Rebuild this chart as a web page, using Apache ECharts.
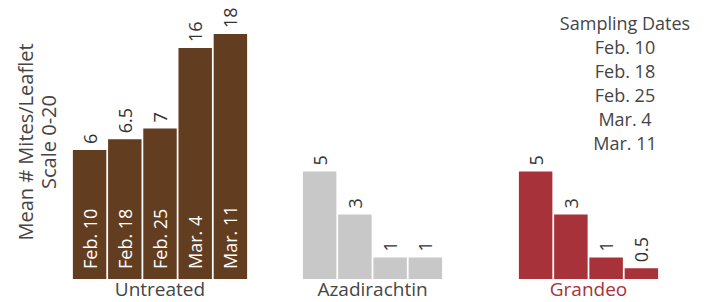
<!DOCTYPE html>
<html>
<head>
<meta charset="utf-8">
<script src="https://cdn.jsdelivr.net/npm/echarts@6/dist/echarts.min.js"></script>
<style>html,body{margin:0;padding:0;background:#fff}#c{width:710px;height:302px}</style>
</head>
<body>
<div id="c"></div>
<script>
// ---- data ----
const dates = ['Feb. 10', 'Feb. 18', 'Feb. 25', 'Mar. 4', 'Mar. 11'];
const groups = ['Untreated', 'Azadirachtin', 'Grandeo'];
const untreated = [6, 6.5, 7, 16, 18];
const azadirachtin = [5, 3, 1, 1];
const grandeo = [5, 3, 1, 0.5];
const legendTitle = 'Sampling Dates';
const yTitle = ['Mean # Mites/Leaflet', 'Scale 0-20'];

// ---- styling ----
const FONT = 'Open Sans';
const TXT = '#454545';
const colors = ['#633d20', '#c8c8c8', '#a8323a'];
const groupNameColors = [TXT, TXT, '#a8323a'];

const chart = echarts.init(document.getElementById('c'), null, {renderer: 'svg'});

const gridDefs = [
  {left: 72, width: 176},
  {left: 302, width: 141},
  {left: 518, width: 141}
];
const seriesData = [untreated, azadirachtin, grandeo];

function yAxisFor(i) {
  return {
    type: 'value', gridIndex: i, min: 0, max: 18, show: false,
    breaks: [
      {start: 7.5, end: 13.2, gap: 0.444},
      {start: 16.2, end: 17.8, gap: 0.251}
    ],
    breakArea: {show: false}
  };
}

const option = {
  backgroundColor: '#fff',
  animation: false,
  textStyle: {fontFamily: FONT},
  title: {
    text: [legendTitle].concat(dates).join('\n'),
    left: 625, top: 11, padding: 0, textAlign: 'center',
    textStyle: {fontFamily: FONT, fontSize: 18, fontWeight: 'normal', color: TXT, lineHeight: 24}
  },
  grid: gridDefs.map(g => ({left: g.left, width: g.width, top: 34, bottom: 23, outerBoundsMode: 'none', containLabel: false})),
  xAxis: seriesData.map((d, i) => ({
    type: 'category', gridIndex: i, data: dates.slice(0, d.length),
    axisLine: {show: false}, axisTick: {show: false}, axisLabel: {show: false},
    name: groups[i], nameLocation: 'middle', nameGap: 10,
    nameTextStyle: {fontFamily: FONT, fontSize: 19, lineHeight: 16, color: groupNameColors[i], verticalAlign: 'middle'}
  })),
  yAxis: seriesData.map((d, i) => yAxisFor(i)),
  series: seriesData.map((d, i) => ({
    type: 'bar', xAxisIndex: i, yAxisIndex: i, data: d,
    barCategoryGap: '5%',
    itemStyle: {color: colors[i]},
    label: {
      show: true, position: 'top', distance: 6, rotate: 90,
      align: 'left', verticalAlign: 'middle',
      fontFamily: FONT, fontSize: 18, color: '#333'
    }
  })).concat([{
    type: 'bar', xAxisIndex: 0, yAxisIndex: 0, data: untreated,
    barCategoryGap: '5%', barGap: '-100%',
    itemStyle: {color: 'rgba(0,0,0,0)'},
    label: {
      show: true, position: 'insideBottom', distance: 10, rotate: 90,
      align: 'left', verticalAlign: 'middle', formatter: '{b}',
      fontFamily: FONT, fontSize: 18, color: '#fff'
    }
  }]),
  graphic: [{
    type: 'text', x: 37, y: 142, rotation: Math.PI / 2,
    style: {
      text: yTitle.join('\n'), fontFamily: FONT, fontSize: 20, fill: TXT,
      align: 'center', verticalAlign: 'middle', lineHeight: 23
    }
  }]
};
chart.setOption(option);
</script>
</body>
</html>
